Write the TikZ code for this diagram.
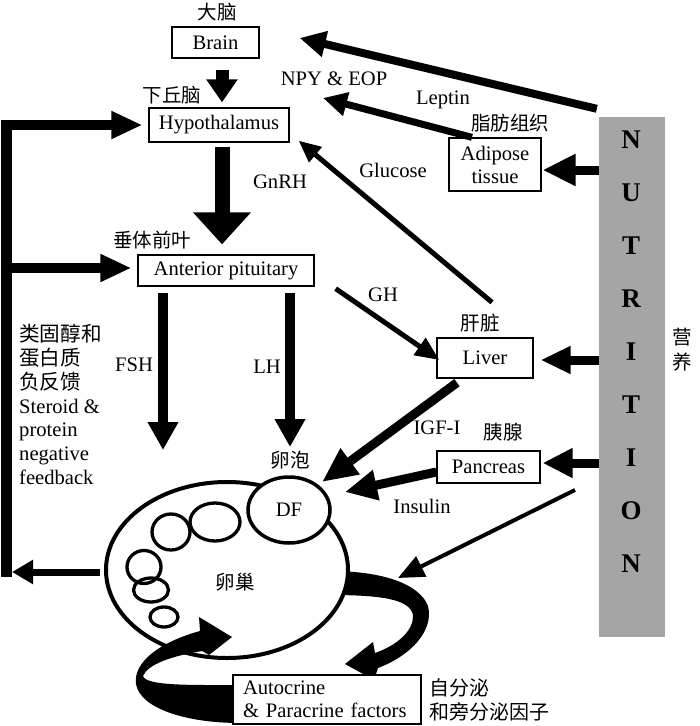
\documentclass[tikz,border=0pt]{standalone}
\usepackage{fontspec}
\setmainfont{Liberation Serif}
\newfontfamily\cjk{Noto Sans CJK SC}
\usetikzlibrary{arrows.meta,shapes.geometric,calc}
\definecolor{bargray}{RGB}{165,165,165}
\begin{document}
\begin{tikzpicture}[x=1pt,y=-1pt,
  every node/.style={font=\fontsize{20.6}{24}\selectfont, inner sep=0pt},
  box/.style={draw, line width=1.3pt, fill=white},
  zh/.style={font=\cjk\fontsize{19.5}{24}\selectfont},
  hd/.style n args={2}{-{Triangle[length=#1pt,width=#2pt]}},
  foll/.style={ellipse, draw, line width=3.3pt},
  letter/.style={font=\bfseries\fontsize{27}{27}\selectfont}]
\useasboundingbox (0,0) rectangle (700,726);

% boxes
\node[box, minimum width=87pt, minimum height=31pt] (brain) at (215.5,42.5) {Brain};
\node[box, minimum width=140pt, minimum height=34pt] (hypo) at (219,125) {Hypothalamus};
\node[box, minimum width=176pt, minimum height=31pt] (ant) at (226,270.5) {Anterior pituitary};
\node[box, minimum width=92pt, minimum height=53pt, align=center, font=\fontsize{20.6}{23}\selectfont] (adip) at (495,164.5) {Adipose\\tissue};
\node[box, minimum width=96pt, minimum height=40pt] (liver) at (485,358) {Liver};
\node[box, minimum width=103pt, minimum height=32pt] (panc) at (488.5,467) {Pancreas};

% nutrition bar
\node[fill=bargray, minimum width=66pt, minimum height=520pt] (nut) at (632,377) {};
\foreach \l/\yy [count=\i] in {N/140,U/193,T/246,R/299,I/352,T/405,I/458,O/511,N/564}
  \node[letter] (L\i) at (631,\yy) {\l};

% right ribbon (behind ovary)
\fill (330,571) .. controls (385,571) and (420,585) .. (428,606)
  .. controls (434,630) and (412,655) .. (378,668) -- (374,680) -- (345,664)
  -- (373,642) -- (375,653) .. controls (398,645) and (414,630) .. (413,615)
  .. controls (410,600) and (385,595) .. (330,595) -- cycle;

% ovary
\node[ellipse, draw, line width=4pt, fill=white, minimum width=242pt, minimum height=176pt] (ovary) at (227,570) {};
\node[foll, minimum width=38pt, minimum height=36pt] (f1) at (171,532) {};
\node[foll, minimum width=50pt, minimum height=38pt] (f2) at (215,522) {};
\node[foll, minimum width=34pt, minimum height=33pt] (f3) at (144,567) {};
\node[foll, minimum width=35pt, minimum height=24pt] (f4) at (151,590) {};
\node[foll, minimum width=28pt, minimum height=20pt] (f5) at (164,617) {};
\node[ellipse, draw, line width=3.5pt, fill=white, minimum width=82pt, minimum height=66pt] (df) at (289,510) {DF};
\node[zh] (luanchao) at (235,582) {卵巢};

% left ribbon (in front)
\fill (240,723) .. controls (185,723) and (140,708) .. (136,684)
  .. controls (133,662) and (160,642) .. (200,631) -- (199,617) -- (232,637)
  -- (209,655) -- (202,651) .. controls (172,656) and (148,664) .. (143,676)
  .. controls (146,686) and (190,685) .. (240,685) -- cycle;

\node[box, minimum width=188pt, minimum height=49pt, text width=168pt, align=left, font=\fontsize{20.6}{23}\selectfont] (auto) at (327,699.5) {Autocrine\\\& Paracrine factors};

% coordinates for free ends
\coordinate (fbtop) at (6.5,120);
\coordinate (fbbot) at (6.5,577);
\coordinate (fbtip) at (12,572);
\coordinate (fshtip) at (163,450);
\coordinate (lhtip) at (290,447);
\coordinate (leptip) at (323,98);
\coordinate (igftip) at (322,482);
\coordinate (instip) at (345,492);
\coordinate (nrs) at (575,490);
\coordinate (nrt) at (398,578);

% arrows
\draw[line width=13pt, hd={23}{30}] ([xshift=6.5pt,yshift=-11pt]brain.south) -- ([xshift=3pt,yshift=5pt]hypo.north);
\draw[line width=15pt, hd={32}{56}] ([xshift=3pt,yshift=-4pt]hypo.south) -- ([xshift=-4pt,yshift=10pt]ant.north);
\draw[line width=11pt] (fbtop) -- (fbbot);
\draw[line width=10pt, hd={31}{26}] (hypo.west -| fbtop) -- ([xshift=-6pt]hypo.west);
\draw[line width=10pt, hd={31}{26}] ($(ant.west -| fbtop)+(0,-2.5)$) -- ($(ant.west)+(-6,-2.5)$);
\draw[line width=7pt, hd={21}{23}] ($(ovary.west)+(-4,2)$) -- (fbtip);
\draw[line width=10pt, hd={28}{29}] ([xshift=-63pt,yshift=-6pt]ant.south) -- (fshtip);
\draw[line width=10pt, hd={28}{29}] ([xshift=64pt,yshift=-6pt]ant.south) -- (lhtip);

\draw[line width=8pt, hd={26}{25}] ([xshift=-2pt,yshift=8pt]nut.north west) -- ([xshift=40pt,yshift=4.5pt]brain.east);
\draw[line width=7pt, hd={24}{23}] ([xshift=-23pt]adip.north) -- (leptip);
\draw[line width=9pt, hd={33}{30}] ($(adip.east -| nut.west)+(0,5.5)$) -- ($(adip.east)+(1,5.5)$);
\draw[line width=5pt, hd={22}{19}] ([xshift=7pt,yshift=35pt]liver.north) -- ([xshift=9pt,yshift=2pt]hypo.south east);
\draw[line width=5pt, hd={24}{20}] ([xshift=21pt,yshift=-2pt]ant.south east) -- ([xshift=3pt,yshift=-2pt]liver.west);
\draw[line width=9pt, hd={30}{26}] ($(liver.east -| nut.west)+(0,2)$) -- ($(liver.east)+(7,2)$);
\draw[line width=9pt, hd={35}{30}] ([xshift=-28pt,yshift=-4pt]liver.south) -- (igftip);
\draw[line width=9pt, hd={30}{28}] ($(panc.east -| nut.west)+(0,-4)$) -- ($(panc.east)+(2,-4)$);
\draw[line width=9pt, hd={32}{29}] ($(panc.west)+(0,5)$) -- (instip);
\draw[line width=4pt, hd={26}{22}] (nrs) -- (nrt);

% labels
\node[zh] (tbrain) at (217,12) {大脑};
\node[zh] (thypo) at (172,95) {下丘脑};
\node[zh] (tant) at (152,240) {垂体前叶};
\node (tgnrh) at (280,182) {GnRH};
\node (tnpy) at (334,79) {NPY \& EOP};
\node (tlep) at (443,100) {Leptin};
\node[zh] (tadip) at (510,123) {脂肪组织};
\node (tglu) at (393,170) {Glucose};
\node (tgh) at (383,295) {GH};
\node[zh] (tliver) at (480,323) {肝脏};
\node (tigf) at (437,428) {IGF-I};
\node[zh] (tpanc) at (503,432) {胰腺};
\node (tins) at (422,506) {Insulin};
\node (tfsh) at (134,365) {FSH};
\node (tlh) at (267,367) {LH};
\node[zh] (tdf) at (290,460) {卵泡};
\node[align=left, anchor=west, font=\fontsize{20.6}{23.8}\selectfont] (tfb) at (19,404.5)
  {{\cjk 类固醇和}\\{\cjk 蛋白质}\\{\cjk 负反馈}\\Steroid \&\\protein\\negative\\feedback};
\node[zh, align=center, font=\cjk\fontsize{19.5}{25}\selectfont] (tnut) at (682,349.5) {营\\养};
\node[zh, align=left, anchor=west, font=\cjk\fontsize{20}{24}\selectfont] (tauto) at (429,700) {自分泌\\和旁分泌因子};
\end{tikzpicture}
\end{document}
